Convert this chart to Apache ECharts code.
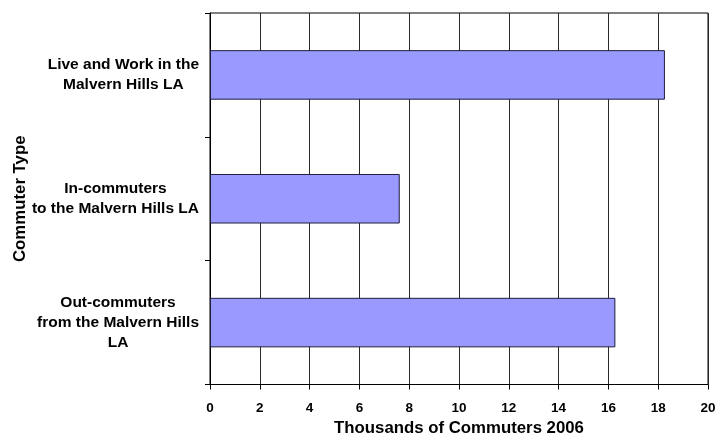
<!DOCTYPE html>
<html>
<head>
<meta charset="utf-8">
<script src="https://cdn.jsdelivr.net/npm/echarts@6/dist/echarts.min.js"></script>
<style>
  html, body { margin: 0; padding: 0; background: #ffffff; }
  #chart { width: 716px; height: 434px; }
</style>
</head>
<body>
<div id="chart"></div>
<script>
// Commuter types, top to bottom
const categories = [
  'Live and Work in the\nMalvern Hills LA',
  'In-commuters\nto the Malvern Hills LA',
  'Out-commuters\nfrom the Malvern Hills\nLA'
];
// Thousands of commuters, 2006
const commuters = [18.27, 7.62, 16.28];
// Value axis range and step
const xMin = 0;
const xMax = 20;
const xStep = 2;

const FONT = '"Liberation Sans", Arial, sans-serif';

const chart = echarts.init(document.getElementById('chart'), null, { renderer: 'canvas' });

chart.setOption({
  animation: false,
  backgroundColor: '#ffffff',
  grid: {
    left: 210, right: 8, top: 13, bottom: 49.5,
    show: true, borderColor: '#000000', borderWidth: 1,
    containLabel: false,
    outerBoundsMode: 'none'
  },
  xAxis: {
    type: 'value',
    min: xMin, max: xMax, interval: xStep,
    name: 'Thousands of Commuters 2006',
    nameLocation: 'middle',
    nameGap: 35,
    nameMoveOverlap: false,
    nameTextStyle: { fontFamily: FONT, fontWeight: 'bold', fontSize: 16.8, color: '#000' },
    axisLine: { show: true, lineStyle: { color: '#000', width: 1 } },
    axisTick: { show: true, length: 5, lineStyle: { color: '#000', width: 1 } },
    axisLabel: { margin: 17, fontFamily: FONT, fontWeight: 'bold', fontSize: 13.5, color: '#000' },
    splitLine: { show: true, lineStyle: { color: '#2a2a2a', width: 1 } }
  },
  yAxis: {
    type: 'category',
    inverse: true,
    data: categories,
    name: 'Commuter Type',
    nameLocation: 'middle',
    nameRotate: 90,
    nameGap: 181,
    nameMoveOverlap: false,
    nameTextStyle: { fontFamily: FONT, fontWeight: 'bold', fontSize: 16.8, color: '#000' },
    axisLine: { show: true, lineStyle: { color: '#000', width: 1 } },
    axisTick: { show: true, length: 5, alignWithLabel: false, lineStyle: { color: '#000', width: 1 } },
    axisLabel: {
      margin: 11, align: 'right',
      // each line centred inside the right-aligned label block
      formatter: (v) => v.split('\n').map((s) => '{c|' + s + '}').join('\n'),
      rich: {
        c: {
          align: 'center',
          fontFamily: FONT, fontWeight: 'bold', fontSize: 15.5, lineHeight: 20, color: '#000'
        }
      }
    },
    splitLine: { show: false }
  },
  series: [{
    type: 'bar',
    data: commuters,
    barWidth: '40%',
    itemStyle: { color: '#9999ff', borderColor: '#1e1e3c', borderWidth: 1 }
  }]
});
</script>
</body>
</html>
